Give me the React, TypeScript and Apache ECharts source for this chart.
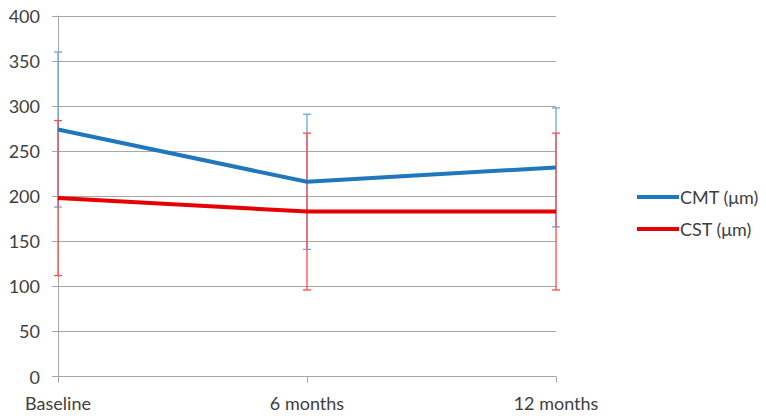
import React, { useEffect, useRef } from "react";
import * as echarts from "echarts";

const categories = ["Baseline", "6 months", "12 months"];
const cmtMean = [274, 216, 232];
const cmtSd = [86, 75, 66];
const cstMean = [198, 183, 183];
const cstSd = [86, 87, 87];
const seriesNames = ["CMT (μm)", "CST (μm)"];

const FONT = "Lato";
const TEXT_COLOR = "#404040";
const BLUE = "#1F78BE";
const BLUE_ERR = "#6AA8DC";
const RED = "#E60000";
const RED_ERR = "#FF4A4A";

function errData(mean: number[], sd: number[]) {
  return mean.map((m, i) => [i, m - sd[i], m + sd[i]]);
}

function errRender(color: string) {
  return (params: any, api: any) => {
    const i = api.value(0);
    const lo = api.coord([i, api.value(1)]);
    const hi = api.coord([i, api.value(2)]);
    const cap = 4;
    const style = { stroke: color, lineWidth: 1.3 };
    return {
      type: "group",
      children: [
        { type: "line", shape: { x1: lo[0], y1: lo[1], x2: hi[0], y2: hi[1] }, style },
        { type: "line", shape: { x1: hi[0] - cap, y1: hi[1], x2: hi[0] + cap, y2: hi[1] }, style },
        { type: "line", shape: { x1: lo[0] - cap, y1: lo[1], x2: lo[0] + cap, y2: lo[1] }, style },
      ],
    };
  };
}

export default function App() {
  const ref = useRef<HTMLDivElement>(null);
  useEffect(() => {
    if (!ref.current) return;
    const chart = echarts.init(ref.current, null, { renderer: "svg" });
    chart.setOption({
      animation: false,
      textStyle: { fontFamily: FONT },
      grid: { left: 58, right: 210, top: 16, bottom: 41.5, containLabel: false },
      legend: {
        data: [
          { name: seriesNames[0], icon: "rect", itemStyle: { color: BLUE } },
          { name: seriesNames[1], icon: "rect", itemStyle: { color: RED } },
        ],
        orient: "vertical",
        left: 632,
        top: 183,
        itemWidth: 42,
        itemHeight: 4,
        itemGap: 14,
        textStyle: { fontFamily: FONT, fontSize: 18, color: TEXT_COLOR, padding: [0, 0, 0, -4] },
      },
      xAxis: {
        type: "category",
        data: categories,
        boundaryGap: false,
        axisLine: { lineStyle: { color: "#A6A6A6", width: 1 } },
        axisTick: { show: true, length: 6, lineStyle: { color: "#A6A6A6" } },
        axisLabel: { fontFamily: FONT, fontSize: 18, color: TEXT_COLOR, margin: 17 },
        splitLine: { show: false },
      },
      yAxis: {
        type: "value",
        min: 0,
        max: 400,
        interval: 50,
        axisLine: { show: true, lineStyle: { color: "#A6A6A6", width: 1 } },
        axisTick: { show: true, length: 6, lineStyle: { color: "#A6A6A6" } },
        axisLabel: { fontFamily: FONT, fontSize: 18, color: TEXT_COLOR, margin: 18 },
        splitLine: { show: true, lineStyle: { color: "#A6A6A6", width: 1 } },
      },
      series: [
        {
          type: "custom",
          name: "cmtErr",
          renderItem: errRender(BLUE_ERR),
          data: errData(cmtMean, cmtSd),
          encode: { x: 0, y: [1, 2] },
          z: 2,
        },
        {
          type: "custom",
          name: "cstErr",
          renderItem: errRender(RED_ERR),
          data: errData(cstMean, cstSd),
          encode: { x: 0, y: [1, 2] },
          z: 3,
        },
        {
          type: "line",
          name: seriesNames[0],
          data: cmtMean,
          symbol: "none",
          lineStyle: { color: BLUE, width: 4 },
          itemStyle: { color: BLUE },
          z: 4,
        },
        {
          type: "line",
          name: seriesNames[1],
          data: cstMean,
          symbol: "none",
          lineStyle: { color: RED, width: 4 },
          itemStyle: { color: RED },
          z: 5,
        },
      ],
    });
    return () => chart.dispose();
  }, []);
  return <div ref={ref} style={{ width: 766, height: 418, position: "absolute", left: 0, top: 0 }} />;
}
